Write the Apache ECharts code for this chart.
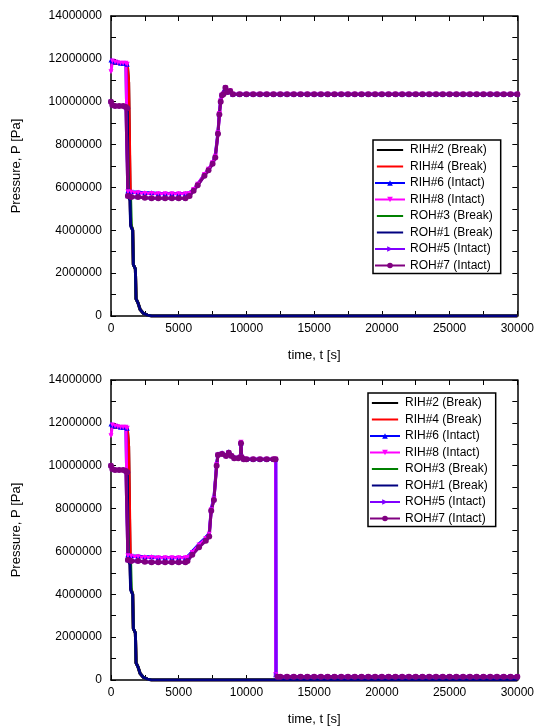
<!DOCTYPE html>
<html>
<head>
<meta charset="utf-8">
<script src="https://cdn.jsdelivr.net/npm/echarts@6/dist/echarts.min.js"></script>
<style>
  html, body { margin: 0; padding: 0; background: #fff; }
  #chart { width: 537px; height: 727px; }
</style>
</head>
<body>
<div id="chart"></div>
<script>
// pressures in MPa, times in s
var xTicks = [0, 5000, 10000, 15000, 20000, 25000, 30000];

// break channels (same behaviour in both cases)
var brkRIH2 = [[0,11.8],[600,11.8],[1200,11.75],[1300,10.9],[1400,6.0],[1450,4.3],[1600,4.0],[1650,2.4],[1800,2.2],[1850,0.8],[2000,0.6],[2150,0.3],[2400,0.12],[2700,0.04],[3000,0],[30000,0]];
var brkRIH4 = [[0,11.82],[600,11.8],[1200,11.78],[1300,10.9],[1380,7.5],[1450,4.3],[1600,4.0],[1650,2.4],[1800,2.2],[1850,0.8],[2000,0.6],[2150,0.3],[2400,0.12],[2700,0.04],[3000,0],[30000,0]];
var brkROH3 = [[0,9.85],[600,9.8],[1100,9.75],[1200,9.4],[1280,5.6],[1450,5.4],[1500,4.2],[1600,4.0],[1650,2.4],[1800,2.2],[1850,0.8],[2000,0.6],[2150,0.3],[2400,0.12],[2700,0.04],[3000,0],[30000,0]];
var brkROH1 = [[0,9.85],[600,9.8],[1200,9.75],[1260,5.6],[1400,5.4],[1450,4.2],[1600,4.0],[1650,2.4],[1800,2.2],[1850,0.8],[2000,0.6],[2150,0.3],[2400,0.12],[2700,0.04],[3000,0],[30000,0]];

// case 1 intact channels
var topRIH6 = [[0,11.95],[100,11.9],[300,11.85],[500,11.85],[700,11.8],[900,11.8],[1100,11.8],[1200,11.75],[1250,5.85],[1500,5.8],[2000,5.78],[2500,5.75],[3000,5.75],[3500,5.72],[4000,5.72],[4500,5.72],[5000,5.72],[5500,5.72],[5800,5.75],[6100,5.9],[6400,6.15],[6900,6.6],[7200,6.85],[7500,7.15],[7700,7.5],[7900,8.6],[8000,9.5],[8100,10.1],[8200,10.35],[8300,10.4],[8450,10.65],[8600,10.45],[8800,10.5]];
var topRIH8 = [[0,11.4],[100,11.9],[300,11.85],[500,11.82],[700,11.8],[900,11.8],[1100,11.8],[1200,11.75],[1250,5.8],[1500,5.78],[2000,5.75],[2500,5.72],[3000,5.72],[3500,5.7],[4000,5.7],[4500,5.7],[5000,5.7],[5500,5.7],[5800,5.72],[6100,5.9],[6400,6.15],[6900,6.6],[7200,6.85],[7500,7.15],[7700,7.45],[7900,8.55],[8000,9.45],[8100,10.05],[8200,10.3],[8300,10.35],[8450,10.65],[8600,10.45],[8800,10.5]];
var topROH5 = [[0,10.0],[100,9.85],[300,9.8],[600,9.8],[900,9.8],[1100,9.75],[1200,9.7],[1250,5.6],[1500,5.55],[2000,5.55],[2500,5.52],[3000,5.5],[3500,5.5],[4000,5.5],[4500,5.5],[5000,5.5],[5500,5.5],[5800,5.6],[6100,5.85],[6400,6.1],[6900,6.55],[7200,6.8],[7500,7.1],[7700,7.4],[7900,8.5],[8000,9.4],[8100,10.0],[8200,10.3],[8300,10.35],[8450,10.65],[8600,10.45],[8800,10.5]];
var topROH7 = [[0,10.0],[100,9.85],[300,9.8],[600,9.8],[900,9.8],[1100,9.75],[1200,9.7],[1250,5.6],[1500,5.55],[2000,5.55],[2500,5.52],[3000,5.5],[3500,5.5],[4000,5.5],[4500,5.5],[5000,5.5],[5500,5.5],[5800,5.6],[6100,5.85],[6400,6.1],[6900,6.55],[7200,6.8],[7500,7.1],[7700,7.4],[7900,8.5],[8000,9.4],[8100,10.0],[8200,10.3],[8300,10.35],[8450,10.65],[8600,10.45],[8800,10.5]];
var topTail = [[9000,10.35],[9500,10.35],[10000,10.35],[10500,10.35],[11000,10.35],[11500,10.35],[12000,10.35],[12500,10.35],[13000,10.35],[13500,10.35],[14000,10.35],[14500,10.35],[15000,10.35],[15500,10.35],[16000,10.35],[16500,10.35],[17000,10.35],[17500,10.35],[18000,10.35],[18500,10.35],[19000,10.35],[19500,10.35],[20000,10.35],[20500,10.35],[21000,10.35],[21500,10.35],[22000,10.35],[22500,10.35],[23000,10.35],[23500,10.35],[24000,10.35],[24500,10.35],[25000,10.35],[25500,10.35],[26000,10.35],[26500,10.35],[27000,10.35],[27500,10.35],[28000,10.35],[28500,10.35],[29000,10.35],[29500,10.35],[30000,10.35]];

// case 2 intact channels
var botRIH6 = [[0,11.95],[100,11.9],[300,11.85],[500,11.85],[700,11.8],[900,11.8],[1100,11.8],[1200,11.75],[1250,5.85],[1500,5.8],[2000,5.78],[2500,5.75],[3000,5.75],[3500,5.72],[4000,5.72],[4500,5.72],[5000,5.72],[5500,5.72],[5650,5.75],[6000,6.0],[6500,6.35],[7000,6.65],[7250,6.85],[7400,8.0],[7600,8.5],[7800,10.1],[7900,10.55],[8200,10.6],[8500,10.5],[8700,10.65],[8900,10.5],[9100,10.4],[9400,10.4],[9550,10.45],[9600,11.05],[9650,10.45],[9800,10.35]];
var botRIH8 = [[0,11.4],[100,11.9],[300,11.85],[500,11.82],[700,11.8],[900,11.8],[1100,11.8],[1200,11.75],[1250,5.8],[1500,5.78],[2000,5.75],[2500,5.72],[3000,5.72],[3500,5.7],[4000,5.7],[4500,5.7],[5000,5.7],[5500,5.7],[5650,5.72],[6000,5.95],[6500,6.3],[7000,6.6],[7250,6.8],[7400,7.95],[7600,8.45],[7800,10.05],[7900,10.5],[8200,10.55],[8500,10.45],[8700,10.6],[8900,10.45],[9100,10.35],[9400,10.35],[9550,10.4],[9600,11.1],[9650,10.4],[9800,10.3]];
var botROH5 = [[0,10.0],[100,9.85],[300,9.8],[600,9.8],[900,9.8],[1100,9.75],[1200,9.7],[1250,5.6],[1500,5.55],[2000,5.55],[2500,5.52],[3000,5.5],[3500,5.5],[4000,5.5],[4500,5.5],[5000,5.5],[5500,5.5],[5650,5.55],[6000,5.85],[6500,6.2],[7000,6.5],[7250,6.7],[7400,7.9],[7600,8.4],[7800,10.0],[7900,10.5],[8200,10.55],[8500,10.45],[8700,10.6],[8900,10.45],[9100,10.35],[9400,10.35],[9550,10.4],[9600,11.05],[9650,10.4],[9800,10.3],[10000,10.3],[10500,10.3],[11000,10.3],[11500,10.3],[12000,10.3],[12180,10.3],[12200,0.25],[12350,0.15]];
// ROH#7 has no visible vertical segment at the drop ('-' leaves a gap)
var botROH7 = [[0,10.0],[100,9.85],[300,9.8],[600,9.8],[900,9.8],[1100,9.75],[1200,9.7],[1250,5.6],[1500,5.55],[2000,5.55],[2500,5.52],[3000,5.5],[3500,5.5],[4000,5.5],[4500,5.5],[5000,5.5],[5500,5.5],[5650,5.55],[6000,5.85],[6500,6.2],[7000,6.5],[7250,6.7],[7400,7.9],[7600,8.4],[7800,10.0],[7900,10.5],[8200,10.55],[8500,10.45],[8700,10.6],[8900,10.45],[9100,10.35],[9400,10.35],[9550,10.4],[9600,11.05],[9650,10.4],[9800,10.3],[10000,10.3],[10500,10.3],[11000,10.3],[11500,10.3],[12000,10.3],[12150,10.3],[12170,'-'],[12300,0.15]];
var botMid = [[10000,10.3],[10500,10.3],[11000,10.3],[11500,10.3],[12000,10.3],[12150,10.3],[12170,0.25],[12300,0.15]];
var botTail = [[12500,0.15],[13000,0.15],[13500,0.15],[14000,0.15],[14500,0.15],[15000,0.15],[15500,0.15],[16000,0.15],[16500,0.15],[17000,0.15],[17500,0.15],[18000,0.15],[18500,0.15],[19000,0.15],[19500,0.15],[20000,0.15],[20500,0.15],[21000,0.15],[21500,0.15],[22000,0.15],[22500,0.15],[23000,0.15],[23500,0.15],[24000,0.15],[24500,0.15],[25000,0.15],[25500,0.15],[26000,0.15],[26500,0.15],[27000,0.15],[27500,0.15],[28000,0.15],[28500,0.15],[29000,0.15],[29500,0.15],[30000,0.15]];

var names = ['RIH#2 (Break)', 'RIH#4 (Break)', 'RIH#6 (Intact)', 'RIH#8 (Intact)', 'ROH#3 (Break)', 'ROH#1 (Break)', 'ROH#5 (Intact)', 'ROH#7 (Intact)'];
var colors = ['#000000', '#ff0000', '#0000ff', '#ff00ff', '#008000', '#000080', '#8000ff', '#800080'];
var symbols = ['none', 'none', 'triangle', 'path://M0,0 L10,0 L5,10 Z', 'none', 'none', 'triangle', 'circle'];
var rotates = [0, 0, 0, 0, 0, 0, -90, 0];

var topData = [brkRIH2, brkRIH4, topRIH6.concat(topTail), topRIH8.concat(topTail), brkROH3, brkROH1, topROH5.concat(topTail), topROH7.concat(topTail)];
var botData = [brkRIH2, brkRIH4, botRIH6.concat(botMid, botTail), botRIH8.concat(botMid, botTail), brkROH3, brkROH1, botROH5.concat(botTail), botROH7.concat(botTail)];

var font = "'Liberation Sans', Arial, sans-serif";
// plain line for legend entries without markers (tiny corner dots keep the box 30x8)
var lineIcon = 'path://M0,0 L0.01,0 L0,0.01 Z M0,2.9 L30,2.9 L30,5.1 L0,5.1 Z M29.99,8 L30,8 L30,7.99 Z';

function toPa(arr) {
  return arr.map(function (p) { return [p[0], p[1] === '-' ? '-' : p[1] * 1e6]; });
}

var series = [];
[topData, botData].forEach(function (set, g) {
  set.forEach(function (d, i) {
    series.push({
      name: names[i],
      type: 'line',
      xAxisIndex: g * 2,
      yAxisIndex: g * 2,
      data: toPa(d),
      symbol: symbols[i],
      symbolSize: symbols[i] === 'circle' ? 6 : 5,
      symbolRotate: rotates[i],
      showSymbol: symbols[i] !== 'none',
      connectNulls: false,
      color: colors[i],
      lineStyle: { width: 3, color: colors[i] },
      itemStyle: { color: colors[i] }
    });
  });
});

function xAx(grid, bottom) {
  return {
    type: 'value', gridIndex: grid, min: 0, max: 30000, interval: 5000,
    position: bottom ? 'bottom' : 'top',
    name: bottom ? 'time, t [s]' : '',
    nameLocation: 'middle', nameGap: 33,
    nameTextStyle: { fontSize: 13, color: '#000', fontFamily: font },
    axisLine: { show: true, onZero: false, lineStyle: { color: '#000', width: 1.5 } },
    axisTick: { show: true, inside: true, length: 5, lineStyle: { color: '#000' } },
    minorTick: { show: true, splitNumber: 2, length: 5, lineStyle: { color: '#000' } },
    axisLabel: { show: bottom, margin: 7, color: '#000', fontSize: 12, fontFamily: font,
      formatter: function (v) { return String(v); } },
    splitLine: { show: false }
  };
}
function yAx(grid, left) {
  return {
    type: 'value', gridIndex: grid, min: 0, max: 14000000, interval: 2000000,
    position: left ? 'left' : 'right',
    name: left ? 'Pressure, P [Pa]' : '',
    nameLocation: 'middle', nameGap: 88,
    nameTextStyle: { fontSize: 13, color: '#000', fontFamily: font },
    axisLine: { show: true, onZero: false, lineStyle: { color: '#000', width: 1.5 } },
    axisTick: { show: true, inside: true, length: 5, lineStyle: { color: '#000' } },
    minorTick: { show: true, splitNumber: 2, length: 5, lineStyle: { color: '#000' } },
    axisLabel: { show: left, margin: 9, color: '#000', fontSize: 12, fontFamily: font,
      formatter: function (v) { return String(v); } },
    splitLine: { show: false }
  };
}

function legendAt(left, top) {
  return {
    data: names.map(function (n, i) {
      return symbols[i] === 'none' ? { name: n, icon: lineIcon } : { name: n };
    }),
    orient: 'vertical',
    left: left, top: top,
    itemWidth: 30, itemHeight: 7, itemGap: 4.5,
    padding: [4, 8, 2, 1],
    borderColor: '#000', borderWidth: 1.5, backgroundColor: '#fff',
    textStyle: { fontSize: 12, color: '#000', fontFamily: font },
    lineStyle: { width: 2 },
    selectedMode: false
  };
}

var option = {
  animation: false,
  backgroundColor: '#fff',
  grid: [
    { left: 111, top: 16, width: 410, height: 300 },
    { left: 111, top: 380, width: 410, height: 301 }
  ],
  xAxis: [xAx(0, true), xAx(0, false), xAx(1, true), xAx(1, false)],
  yAxis: [yAx(0, true), yAx(0, false), yAx(1, true), yAx(1, false)],
  legend: [legendAt(373, 140), legendAt(368, 393)],
  series: series
};

var myChart = echarts.init(document.getElementById('chart'));
myChart.setOption(option, true);
</script>
</body>
</html>
